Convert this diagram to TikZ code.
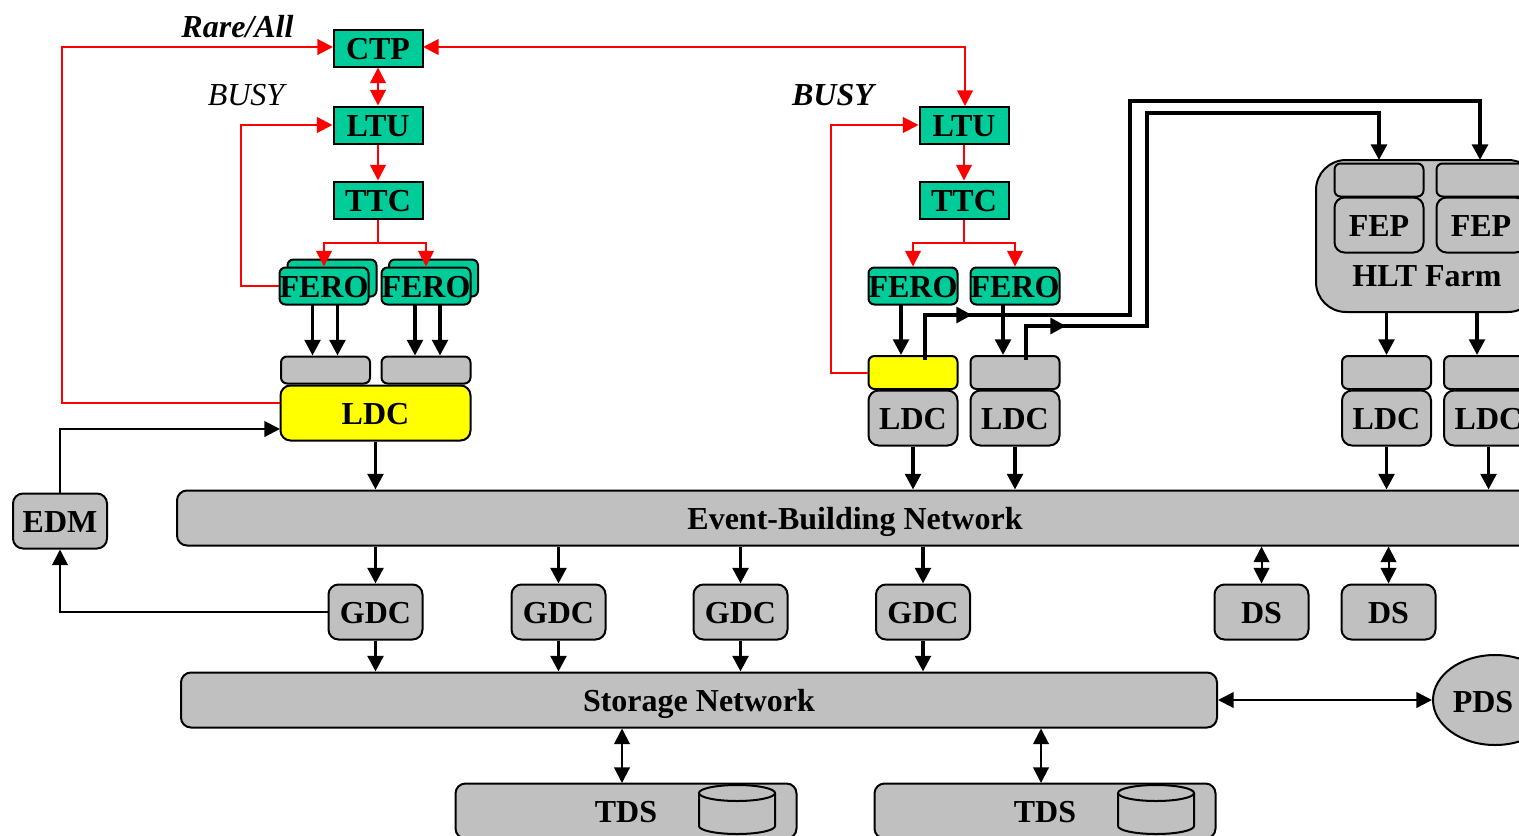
\documentclass[tikz,border=0pt]{standalone}
\usepackage{fontspec}
\setmainfont{Liberation Serif}
\usetikzlibrary{arrows.meta,shapes.geometric}
\definecolor{trigreen}{RGB}{0,204,153}
\definecolor{boxgray}{RGB}{192,192,192}
\definecolor{hiyellow}{RGB}{255,255,0}
\tikzset{
    tip/.tip={Triangle[length=7.8pt,width=7.8pt]},
    boxtext/.style={font=\fontsize{16}{18}\selectfont\bfseries, inner sep=0pt, text=black, text height=11pt, text depth=0pt},
    trigbox/.style={boxtext, draw=black, line width=1pt, fill=trigreen, minimum width=44.5pt, minimum height=18.5pt},
    ferobox/.style={trigbox, rounded corners=3pt},
    bufbox/.style={boxtext, draw=black, line width=1pt, fill=boxgray, rounded corners=3pt, minimum width=44.5pt, minimum height=16.5pt},
    pcbox/.style={bufbox, rounded corners=5pt, minimum width=47pt, minimum height=27.5pt},
    redline/.style={draw=red, line width=1pt},
    redarrow/.style={redline, -tip},
    redboth/.style={redline, tip-tip},
    thinarrow/.style={draw=black, line width=1pt, -tip},
    thinboth/.style={draw=black, line width=1pt, tip-tip},
    dataarrow/.style={draw=black, line width=1.7pt, -tip},
    hltarrow/.style={draw=black, line width=2.2pt, -tip},
    diskline/.style={draw=black, line width=1pt}
}
\begin{document}
\begin{tikzpicture}[x=0.5pt,y=-0.5pt]
    \useasboundingbox (0,0) rectangle (1519,835);
    \clip (0,0) rectangle (1519,835);

    % trigger, left
    \node[trigbox] (ctp) at (378,48) {CTP};
    \node[trigbox] (ltua) at (378,125) {LTU};
    \node[trigbox] (ttca) at (378,200) {TTC};
    \node[ferobox] (ferobacka) at (332,278) {};
    \node[ferobox] (ferobackb) at (433.5,278) {};
    \node[ferobox] (feroa) at (324,286) {FERO};
    \node[ferobox] (ferob) at (426,286) {FERO};
    \node[bufbox, minimum height=13.5pt] (bufa) at (325.5,370) {};
    \node[bufbox, minimum height=13.5pt] (bufb) at (426,370) {};
    \node[pcbox, fill=hiyellow, minimum width=95pt] (ldca) at (375.5,413) {LDC};

    % trigger, right
    \node[trigbox] (ltub) at (964,125) {LTU};
    \node[trigbox] (ttcb) at (964,200) {TTC};
    \node[ferobox] (feroc) at (913,286) {FERO};
    \node[ferobox] (ferod) at (1015,286) {FERO};
    \node[bufbox, fill=hiyellow] (bufc) at (913,372.5) {};
    \node[bufbox] (bufd) at (1015,372.5) {};
    \node[pcbox, minimum width=44.5pt] (ldcb) at (913,418) {LDC};
    \node[pcbox, minimum width=44.5pt] (ldcc) at (1015,418) {LDC};

    % HLT farm
    \node[bufbox, rounded corners=15pt, minimum width=111pt, minimum height=76pt] (hlt) at (1427,236) {};
    \node[bufbox] (bufe) at (1379,180) {};
    \node[bufbox] (buff) at (1481,180) {};
    \node[pcbox, minimum width=44.5pt] (fepa) at (1379,225) {FEP};
    \node[pcbox, minimum width=44.5pt] (fepb) at (1481,225) {FEP};
    \node[boxtext] (hlttext) at (1427,275) {HLT Farm};
    \node[bufbox] (bufg) at (1386.5,372.5) {};
    \node[bufbox] (bufh) at (1488.5,372.5) {};
    \node[pcbox, minimum width=44.5pt] (ldcd) at (1386.5,418) {LDC};
    \node[pcbox, minimum width=44.5pt] (ldce) at (1488.5,418) {LDC};

    % networks and the machines on them
    \node[pcbox, minimum width=678pt] (evnet) at (855,518) {Event-Building Network};
    \node[pcbox] (edm) at (60,521) {EDM};
    \node[pcbox] (gdca) at (375.5,612) {GDC};
    \node[pcbox] (gdcb) at (558.5,612) {GDC};
    \node[pcbox] (gdcc) at (740.5,612) {GDC};
    \node[pcbox] (gdcd) at (923,612) {GDC};
    \node[pcbox] (dsa) at (1261.5,612) {DS};
    \node[pcbox] (dsb) at (1388.5,612) {DS};
    \node[pcbox, minimum width=518pt] (stnet) at (699,700) {Storage Network};
    \node[draw=black, line width=1pt, fill=boxgray, ellipse, inner sep=0pt, minimum width=62pt, minimum height=45pt] (pds) at (1495,700) {};
    \node[boxtext] (pdstext) at (1483,701) {PDS};
    \node[pcbox, minimum width=170.5pt] (tdsa) at (626,811) {TDS};
    \node[pcbox, minimum width=170.5pt] (tdsb) at (1045,811) {TDS};

    % the disks in the TDS boxes
    \draw[diskline] (699,793) -- (699,826) arc[start angle=180,end angle=0,x radius=38,y radius=8] -- (775,793);
    \draw[diskline] (737,793) ellipse (38 and 8);
    \draw[diskline] (1118,793) -- (1118,826) arc[start angle=180,end angle=0,x radius=38,y radius=8] -- (1194,793);
    \draw[diskline] (1156,793) ellipse (38 and 8);

    % free labels
    \node[font=\fontsize{16}{18}\selectfont\bfseries\itshape, text height=11pt, text depth=0pt, inner sep=0pt] (rare) at (237.5,26) {Rare/All};
    \node[font=\fontsize{16}{18}\selectfont\itshape, text height=11pt, text depth=0pt, inner sep=0pt] (busya) at (246,94) {BUSY};
    \node[font=\fontsize{16}{18}\selectfont\bfseries\itshape, text height=11pt, text depth=0pt, inner sep=0pt] (busyb) at (833,94) {BUSY};

    % red links
    \coordinate (busyout) at (280,403);
    \coordinate (ctpleft) at (333,47);
    \coordinate (ctpright) at (423,47);
    \coordinate (ltutop) at (965,106);
    \draw[redarrow] (busyout) -- (62,403) -- (62,47) -- (ctpleft);
    \draw[redboth] (ctpright) -- (965,47) -- (ltutop);
    \draw[redboth] (ctp.south) -- (ltua.north);
    \draw[redarrow] (ltua.south) -- (ttca.north);
    \draw[redarrow] (feroa.west) -- (241,286) -- (241,125) -- (ltua.west);
    \draw[redarrow] (ttca.south) -- (378,243) -- (324,243) -- (feroa.north);
    \draw[redarrow] (ttca.south) -- (378,243) -- (426,243) -- (ferob.north);
    \draw[redarrow] (ltub.south) -- (ttcb.north);
    \draw[redarrow] (ttcb.south) -- (964,243) -- (913,243) -- (feroc.north);
    \draw[redarrow] (ttcb.south) -- (964,243) -- (1015,243) -- (ferod.north);
    \draw[redarrow] (bufc.west) -- (831,372.5) -- (831,125) -- (ltub.west);

    % FERO to buffers
    \coordinate (feaa) at (312.5,305);
    \coordinate (feab) at (337.5,305);
    \coordinate (feba) at (415,305);
    \coordinate (febb) at (440,305);
    \coordinate (feca) at (901,305);
    \coordinate (feda) at (1003,305);
    \draw[dataarrow] (feaa) -- (feaa |- bufa.north);
    \draw[dataarrow] (feab) -- (feab |- bufa.north);
    \draw[dataarrow] (feba) -- (feba |- bufb.north);
    \draw[dataarrow] (febb) -- (febb |- bufb.north);
    \draw[dataarrow] (feca) -- (feca |- bufc.north);
    \draw[dataarrow] (feda) -- (feda |- bufd.north);

    % buffers to HLT farm
    \coordinate (outc) at (925,360);
    \coordinate (outd) at (1026,360);
    \coordinate (midc) at (972,315);
    \coordinate (midd) at (1066,326);
    \coordinate (backc) at (955,315);
    \coordinate (backd) at (1050,326);
    \coordinate (fepain) at (1379,160);
    \coordinate (fepbin) at (1480,160);
    \draw[hltarrow] (outc) -- (925,315) -- (midc);
    \draw[hltarrow] (backc) -- (1130,315) -- (1130,101) -- (1480,101) -- (fepbin);
    \draw[hltarrow] (outd) -- (1026,326) -- (midd);
    \draw[hltarrow] (backd) -- (1147,326) -- (1147,113) -- (1379,113) -- (fepain);

    % HLT farm to buffers
    \coordinate (hlta) at (1386.5,312);
    \coordinate (hltb) at (1477,312);
    \draw[dataarrow] (hlta) -- (hlta |- bufg.north);
    \draw[dataarrow] (hltb) -- (hltb |- bufh.north);

    % LDC to event building
    \draw[dataarrow] (ldca.south) -- (ldca.south |- evnet.north);
    \draw[dataarrow] (ldcb.south) -- (ldcb.south |- evnet.north);
    \draw[dataarrow] (ldcc.south) -- (ldcc.south |- evnet.north);
    \draw[dataarrow] (ldcd.south) -- (ldcd.south |- evnet.north);
    \draw[dataarrow] (ldce.south) -- (ldce.south |- evnet.north);

    % event building to GDC to storage
    \draw[dataarrow] (gdca.north |- evnet.south) -- (gdca.north);
    \draw[dataarrow] (gdcb.north |- evnet.south) -- (gdcb.north);
    \draw[dataarrow] (gdcc.north |- evnet.south) -- (gdcc.north);
    \draw[dataarrow] (gdcd.north |- evnet.south) -- (gdcd.north);
    \draw[dataarrow] (gdca.south) -- (gdca.south |- stnet.north);
    \draw[dataarrow] (gdcb.south) -- (gdcb.south |- stnet.north);
    \draw[dataarrow] (gdcc.south) -- (gdcc.south |- stnet.north);
    \draw[dataarrow] (gdcd.south) -- (gdcd.south |- stnet.north);
    \draw[thinboth] (dsa.north |- evnet.south) -- (dsa.north);
    \draw[thinboth] (dsb.north |- evnet.south) -- (dsb.north);

    % EDM
    \coordinate (edmin) at (280,429);
    \draw[thinarrow] (edm.north) -- (60,429) -- (edmin);
    \draw[thinarrow] (gdca.west) -- (60,612) -- (edm.south);

    % storage
    \coordinate (tdsatop) at (622,783);
    \coordinate (tdsbtop) at (1041,783);
    \draw[thinboth] (stnet.east) -- (pds.west);
    \draw[thinboth] (tdsatop |- stnet.south) -- (tdsatop);
    \draw[thinboth] (tdsbtop |- stnet.south) -- (tdsbtop);
\end{tikzpicture}
\end{document}
